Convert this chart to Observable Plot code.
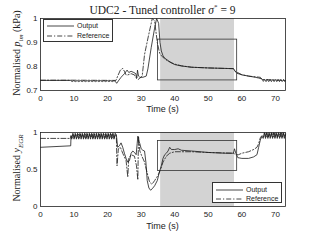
<!DOCTYPE html>
<html><head><meta charset="utf-8">
<script src="https://cdn.jsdelivr.net/npm/d3@7"></script>
<script src="https://cdn.jsdelivr.net/npm/@observablehq/plot@0.6"></script>
<style>
body{margin:0;background:#fff;}
#wrap{position:relative;width:314px;height:241px;overflow:hidden;}
.abs{position:absolute;}
.serif{font-family:"Liberation Serif","DejaVu Serif",serif;color:#222;}
.ylab{white-space:nowrap;transform:translate(-50%,-50%) rotate(-90deg);font-size:10px;}
.legend{background:#fff;border:0.8px solid #333;font-family:"Liberation Sans",Arial,sans-serif;font-size:7px;color:#222;box-sizing:border-box;}
.legend .row{position:absolute;left:0;display:flex;align-items:center;}
.legend span{color:#222;}
.legend svg{display:block;}
</style></head>
<body><div id="wrap"></div>
<script>
// ---------- data ----------
const xTicks = [0,10,20,30,40,50,60,70];
const pimTicks = [0.7,0.8,0.9,1];
const egrTicks = [0,0.5,1];
const seriesNames = ["Output","Reference"];
const shadeSpan = [35.8, 57.8];
const pimBox = [35.0, 58.6, 0.742, 0.912];
const egrBox = [35.0, 58.6, 0.48, 0.885];

const pimOutput = [[0,0.742],[9,0.742],[9.4,0.737],[9.9,0.741],[10.4,0.737],[10.9,0.741],[11.4,0.737],[11.9,0.741],[12.4,0.737],[12.9,0.741],[13.4,0.737],[13.9,0.741],[14.4,0.737],[14.9,0.741],[15.4,0.737],[15.9,0.741],[16.4,0.737],[16.9,0.741],[17.4,0.737],[17.9,0.741],[18.4,0.737],[18.9,0.741],[19.4,0.737],[19.9,0.741],[20.4,0.737],[20.9,0.741],[21.4,0.737],[21.9,0.741],[22.3,0.738],[22.7,0.730],[23.2,0.740],[24,0.755],[25,0.770],[25.8,0.785],[26.3,0.775],[27,0.780],[27.8,0.775],[28.4,0.770],[28.7,0.752],[28.9,0.785],[29.2,0.760],[29.6,0.755],[30.5,0.755],[31.5,0.760],[32,0.790],[33,0.880],[34,0.960],[34.6,1.0],[35.2,0.98],[35.6,0.90],[36,0.865],[36.5,0.845],[37,0.835],[38,0.825],[39,0.815],[40,0.808],[42,0.802],[45,0.797],[50,0.794],[55,0.792],[57.5,0.791],[58,0.780],[58.5,0.772],[60,0.765],[62,0.760],[64,0.755],[65,0.752],[66,0.748],[66.4,0.738],[66.8,0.746],[67.2,0.737],[67.6,0.746],[68,0.737],[68.4,0.746],[68.8,0.737],[69.2,0.746],[69.6,0.737],[70,0.746],[70.4,0.737],[70.8,0.746],[71.2,0.737],[71.6,0.746],[72,0.737],[72.4,0.746],[72.8,0.737],[73,0.742]];

const pimReference = [[0,0.743],[9,0.743],[22.5,0.742],[23,0.760],[23.8,0.785],[24.5,0.792],[25,0.780],[25.5,0.765],[26,0.765],[27,0.770],[28,0.765],[28.6,0.750],[29,0.745],[29.5,0.750],[30.3,0.760],[31,0.850],[32.2,0.930],[33.3,1.0],[34,0.99],[34.8,0.90],[35.5,0.855],[36,0.845],[37,0.832],[38,0.822],[40,0.810],[42,0.803],[45,0.797],[50,0.794],[57.5,0.791],[58,0.780],[60,0.766],[62,0.760],[64,0.757],[65.5,0.755],[66,0.746],[73,0.742]];

const egrOutput = [[0,0.80],[9,0.82],[9.1,0.95],[9.3,0.91],[9.65,0.99],[10.0,0.91],[10.35,0.99],[10.7,0.91],[11.05,0.99],[11.4,0.91],[11.75,0.99],[12.1,0.91],[12.45,0.99],[12.8,0.91],[13.15,0.99],[13.5,0.91],[13.85,0.99],[14.2,0.91],[14.55,0.99],[14.9,0.91],[15.25,0.99],[15.6,0.91],[15.95,0.99],[16.3,0.91],[16.65,0.99],[17.0,0.91],[17.35,0.99],[17.7,0.91],[18.05,0.99],[18.4,0.91],[18.75,0.99],[19.1,0.91],[19.45,0.99],[19.8,0.91],[20.15,0.99],[20.5,0.91],[20.85,0.99],[21.2,0.91],[21.55,0.99],[21.9,0.91],[22.25,0.99],[22.6,0.97],[23,0.80],[23.5,0.82],[24,0.86],[24.5,0.80],[25,0.72],[25.5,0.65],[26,0.60],[26.5,0.62],[27,0.72],[27.5,0.75],[28,0.73],[28.5,0.70],[28.8,0.85],[29,0.95],[29.3,0.88],[29.6,0.85],[30,0.78],[30.5,0.76],[31,0.75],[31.4,0.60],[31.8,0.35],[32.3,0.25],[32.8,0.22],[33.3,0.24],[34,0.28],[34.8,0.35],[35.5,0.48],[36,0.55],[36.5,0.65],[37,0.70],[37.5,0.72],[38,0.75],[38.5,0.80],[39,0.77],[40,0.77],[41,0.78],[42,0.76],[45,0.75],[50,0.73],[55,0.72],[57.5,0.72],[57.8,0.78],[58.2,0.72],[58.8,0.66],[60,0.65],[62,0.65],[63.5,0.67],[64.5,0.70],[65,0.80],[65.5,0.90],[66,0.95],[66.35,0.92],[66.7,1.0],[67.05,0.92],[67.4,1.0],[67.75,0.92],[68.1,1.0],[68.45,0.92],[68.8,1.0],[69.15,0.92],[69.5,1.0],[69.85,0.92],[70.2,1.0],[70.55,0.92],[70.9,1.0],[71.25,0.92],[71.6,1.0],[71.95,0.92],[72.3,1.0],[72.65,0.92],[73,0.98]];

const egrReference = [[0,0.92],[9,0.92],[9.1,0.96],[9.45,0.93],[9.8,0.98],[10.15,0.93],[10.5,0.98],[10.85,0.93],[11.2,0.98],[11.55,0.93],[11.9,0.98],[12.25,0.93],[12.6,0.98],[12.95,0.93],[13.3,0.98],[13.65,0.93],[14.0,0.98],[14.35,0.93],[14.7,0.98],[15.05,0.93],[15.4,0.98],[15.75,0.93],[16.1,0.98],[16.45,0.93],[16.8,0.98],[17.15,0.93],[17.5,0.98],[17.85,0.93],[18.2,0.98],[18.55,0.93],[18.9,0.98],[19.25,0.93],[19.6,0.98],[19.95,0.93],[20.3,0.98],[20.65,0.93],[21.0,0.98],[21.35,0.93],[21.7,0.98],[22.05,0.93],[22.4,0.98],[22.6,0.95],[22.8,0.55],[23.2,0.78],[23.8,0.80],[24.5,0.72],[25.5,0.62],[26,0.40],[26.3,0.65],[27,0.70],[28,0.68],[28.6,0.55],[29,0.36],[29.2,0.95],[29.6,0.75],[30.2,0.68],[31,0.60],[31.8,0.45],[32.5,0.33],[33.2,0.30],[34,0.35],[35,0.42],[35.8,0.50],[36.5,0.60],[37.5,0.68],[38.5,0.72],[40,0.74],[45,0.74],[50,0.73],[57.5,0.72],[58.2,0.70],[59,0.70],[60,0.72],[62,0.74],[63.5,0.77],[64.5,0.80],[65,0.85],[65.5,0.93],[66,0.96],[66.5,0.94],[66.85,0.99],[67.2,0.94],[67.55,0.99],[67.9,0.94],[68.25,0.99],[68.6,0.94],[68.95,0.99],[69.3,0.94],[69.65,0.99],[70,0.94],[70.35,0.99],[70.7,0.94],[71.05,0.99],[71.4,0.94],[71.75,0.99],[72.1,0.94],[72.45,0.99],[72.8,0.94],[73,0.97]];

// ---------- drawing ----------
const wrap = document.getElementById("wrap");
const ink = "#1a1a1a";
const dash = "5,2,1.2,2";
const style = {fontFamily:'"Liberation Sans",Arial,sans-serif', fontSize:"8px", color:"#222", background:"transparent", overflow:"visible"};

function panel(out, ref, yDom, yTicks, box, opts){
  return Plot.plot({
    width:314, height:opts.height,
    marginTop:opts.mt, marginBottom:opts.mb, marginLeft:40, marginRight:29,
    style,
    x:{domain:[0,73]},
    y:{domain:yDom},
    marks:[
      Plot.rect([shadeSpan], {x1:d=>d[0], x2:d=>d[1], fill:"#d3d3d3"}),
      Plot.line(out, {x:d=>d[0], y:d=>d[1], stroke:ink, strokeWidth:0.8}),
      Plot.line(ref, {x:d=>d[0], y:d=>d[1], stroke:ink, strokeWidth:0.8, strokeDasharray:dash}),
      Plot.rect([box], {x1:d=>d[0], x2:d=>d[1], y1:d=>d[2], y2:d=>d[3], fill:"none", stroke:"#333", strokeWidth:0.8}),
      Plot.frame({stroke:"#222", strokeWidth:0.8}),
      Plot.axisX({ticks:xTicks, tickSize:0, tickPadding:5, label:null, tickFormat:d=>String(d)}),
      Plot.axisY({ticks:yTicks, tickSize:0, tickPadding:3, label:null, tickFormat:d=>String(d)})
    ]
  });
}

function place(el, top){ el.style.position="absolute"; el.style.left="0px"; el.style.top=top+"px"; wrap.appendChild(el); }

const top1 = panel(pimOutput, pimReference, [0.7,1], pimTicks, pimBox, {height:120, mt:18, mb:30});
place(top1, 0);
const bot = panel(egrOutput, egrReference, [0,1], egrTicks, egrBox, {height:121, mt:12, mb:35});
place(bot, 120);

function html(s){ const d=document.createElement("div"); d.innerHTML=s; return d.firstChild; }

wrap.appendChild(html('<div class="abs serif" style="left:0;top:0;width:325px;text-align:center;font-size:11.5px;line-height:15px;">UDC2 - Tuned controller <i>σ</i><sup style="font-size:7px">*</sup> = 9</div>'));
wrap.appendChild(html('<div class="abs" style="left:0;top:104px;width:325px;text-align:center;font-family:\'Liberation Sans\',Arial,sans-serif;font-size:9px;color:#222;">Time (s)</div>'));
wrap.appendChild(html('<div class="abs" style="left:0;top:221px;width:325px;text-align:center;font-family:\'Liberation Sans\',Arial,sans-serif;font-size:9px;color:#222;">Time (s)</div>'));
wrap.appendChild(html('<div class="abs serif ylab" style="left:18px;top:53px;">Normalised <i>p</i><sub style="font-size:7px"><i>im</i></sub> (kPa)</div>'));
wrap.appendChild(html('<div class="abs serif ylab" style="left:18px;top:168px;">Normalised <i>y</i><sub style="font-size:7px"><i>EGR</i></sub></div>'));

function legend(left, top, w, h, rows, lineW){
  let s = `<div class="abs legend" style="left:${left}px;top:${top}px;width:${w}px;height:${h}px;">`;
  seriesNames.forEach((n,i)=>{
    const da = i===1 ? `stroke-dasharray="${dash}"` : "";
    s += `<div class="row" style="top:${rows[i]}px;left:3px;"><svg width="${lineW}" height="4"><line x1="0" x2="${lineW}" y1="2" y2="2" stroke="${ink}" stroke-width="0.8" ${da}/></svg><span style="margin-left:3px;line-height:8px">${n}</span></div>`;
  });
  s += `</div>`;
  wrap.appendChild(html(s));
}
legend(43, 19, 70, 23, [2, 12], 27);
legend(212, 182, 70, 21, [3, 12], 27);
</script></body></html>
